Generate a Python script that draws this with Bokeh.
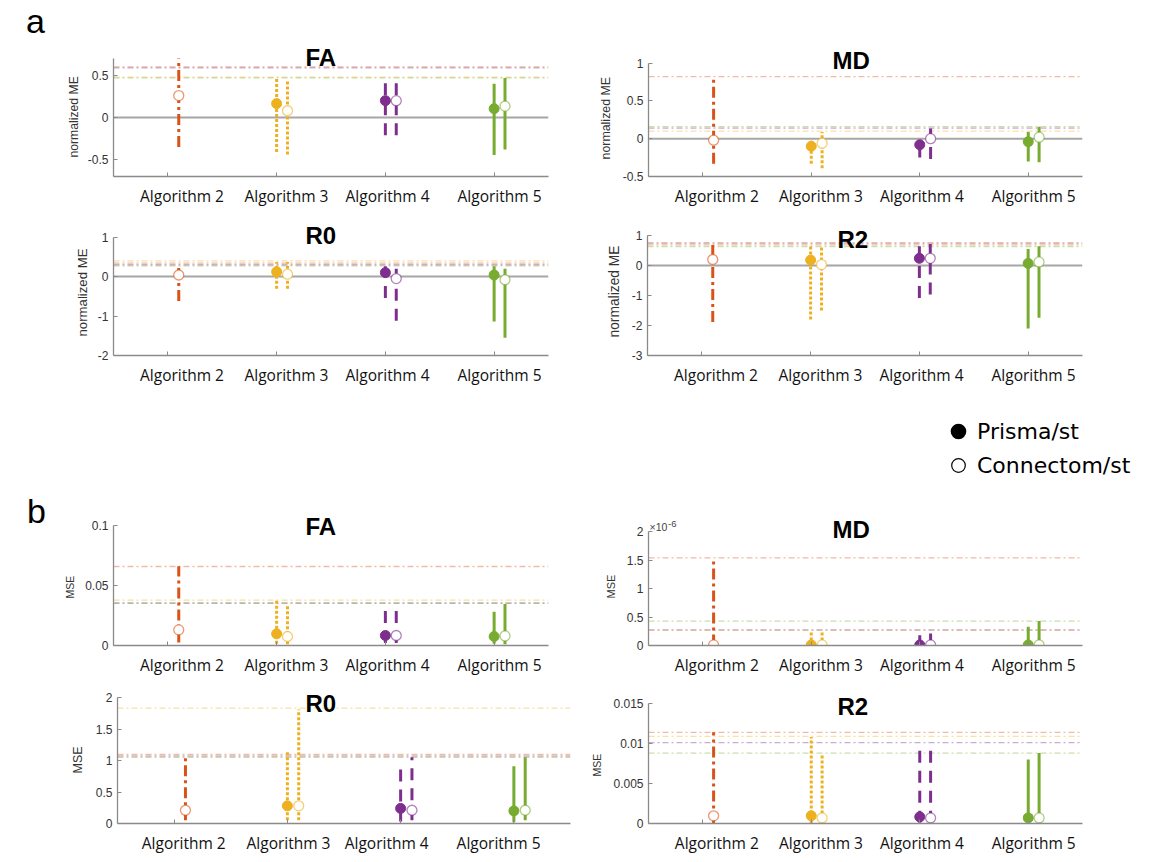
from bokeh.plotting import figure
from bokeh.models import (Range1d, FixedTicker, CustomJSTickFormatter, Span, Label, Title,
                          Legend, LegendItem, ColumnDataSource, Spacer, Div)
from bokeh.layouts import row, column
from bokeh.transform import dodge
from bokeh.embed import file_html
from bokeh.resources import INLINE

# ------------------------------------------------------------------ data
ALGORITHMS = ["Algorithm 2", "Algorithm 3", "Algorithm 4", "Algorithm 5"]
ALG_POS = [2, 3, 4, 5]        # Connectom/st: algorithms 2-5
PRISMA_POS = [3, 4, 5]        # Prisma/st: algorithms 3-5
LEGEND_LABELS = ["Prisma/st", "Connectom/st"]
COLORS = ["#D95319", "#EDB120", "#7E2F8E", "#77AC30"]
DASHES = ["11 4 3 4", "3 2", "12 8", "solid"]

# (a) normalized ME -- FA
me_fa_prisma = [0.165, 0.20, 0.105]
me_fa_prisma_lo = [-0.41, -0.21, -0.445]
me_fa_prisma_hi = [0.47, 0.49, 0.40]
me_fa_conn = [0.26, 0.08, 0.20, 0.135]
me_fa_conn_lo = [-0.35, -0.44, -0.21, -0.38]
me_fa_conn_hi = [0.70, 0.43, 0.49, 0.47]
me_fa_ref = [0.60, 0.48, 0.59, 0.47]

# (a) normalized ME -- MD
me_md_prisma = [-0.10, -0.08, -0.04]
me_md_prisma_lo = [-0.33, -0.25, -0.30]
me_md_prisma_hi = [0.0, -0.05, 0.09]
me_md_conn = [-0.02, -0.06, 0.0, 0.02]
me_md_conn_lo = [-0.33, -0.39, -0.27, -0.31]
me_md_conn_hi = [0.82, 0.09, 0.135, 0.157]
me_md_ref = [0.82, 0.10, 0.14, 0.16]

# (a) normalized ME -- R0
me_r0_prisma = [0.12, 0.10, 0.04]
me_r0_prisma_lo = [-0.31, -0.54, -1.14]
me_r0_prisma_hi = [0.37, 0.26, 0.26]
me_r0_conn = [0.04, 0.06, -0.05, -0.08]
me_r0_conn_lo = [-0.62, -0.31, -1.12, -1.55]
me_r0_conn_hi = [0.29, 0.37, 0.25, 0.20]
me_r0_ref = [0.34, 0.40, 0.30, 0.27]

# (a) normalized ME -- R2
me_r2_prisma = [0.18, 0.24, 0.07]
me_r2_prisma_lo = [-1.80, -1.08, -2.10]
me_r2_prisma_hi = [0.64, 0.64, 0.55]
me_r2_conn = [0.20, 0.03, 0.24, 0.12]
me_r2_conn_lo = [-1.88, -1.50, -0.97, -1.74]
me_r2_conn_hi = [0.76, 0.61, 0.72, 0.64]
me_r2_ref = [0.76, 0.67, 0.72, 0.63]

# (b) MSE -- FA
mse_fa_prisma = [0.0097, 0.0083, 0.0075]
mse_fa_prisma_lo = [0.0014, 0.002, 0.0014]
mse_fa_prisma_hi = [0.038, 0.032, 0.028]
mse_fa_conn = [0.013, 0.0075, 0.0083, 0.008]
mse_fa_conn_lo = [0.0025, 0.001, 0.002, 0.001]
mse_fa_conn_hi = [0.066, 0.034, 0.032, 0.0345]
mse_fa_ref = [0.0657, 0.0378, 0.0350, 0.0356]

# (b) MSE -- MD
mse_md_prisma = [0.01e-6, 0.01e-6, 0.01e-6]
mse_md_prisma_lo = [0.0, 0.0, 0.0]
mse_md_prisma_hi = [0.23e-6, 0.18e-6, 0.33e-6]
mse_md_conn = [0.01e-6, 0.01e-6, 0.01e-6, 0.01e-6]
mse_md_conn_lo = [0.0, 0.0, 0.0, 0.0]
mse_md_conn_hi = [1.54e-6, 0.26e-6, 0.21e-6, 0.43e-6]
mse_md_ref = [1.54e-6, 0.265e-6, 0.275e-6, 0.43e-6]

# (b) MSE -- R0
mse_r0_prisma = [0.28, 0.24, 0.20]
mse_r0_prisma_lo = [0.05, 0.03, 0.02]
mse_r0_prisma_hi = [1.14, 0.86, 0.91]
mse_r0_conn = [0.21, 0.28, 0.21, 0.21]
mse_r0_conn_lo = [0.05, 0.05, 0.05, 0.05]
mse_r0_conn_hi = [1.08, 1.81, 1.05, 1.05]
mse_r0_ref = [1.095, 1.83, 1.07, 1.05]

# (b) MSE -- R2
mse_r2_prisma = [0.00096, 0.00083, 0.0007]
mse_r2_prisma_lo = [0.0, 0.0001, 0.0]
mse_r2_prisma_hi = [0.0108, 0.0101, 0.0080]
mse_r2_conn = [0.00096, 0.0007, 0.0007, 0.0007]
mse_r2_conn_lo = [0.0, 0.0, 0.0001, 0.0]
mse_r2_conn_hi = [0.0114, 0.0085, 0.0092, 0.0088]
mse_r2_ref = [0.0114, 0.0109, 0.0101, 0.0088]

# axis ranges / ticks
me_fa_yrange, me_fa_yticks = (-0.7, 0.7), [-0.5, 0, 0.5]
me_md_yrange, me_md_yticks = (-0.5, 1.0), [-0.5, 0, 0.5, 1]
me_r0_yrange, me_r0_yticks = (-2.0, 1.0), [-2, -1, 0, 1]
me_r2_yrange, me_r2_yticks = (-3.0, 1.0), [-3, -2, -1, 0, 1]
mse_fa_yrange, mse_fa_yticks = (0.0, 0.1), [0, 0.05, 0.1]
mse_md_yrange, mse_md_yticks = (0.0, 2e-6), [0, 0.5e-6, 1e-6, 1.5e-6, 2e-6]
mse_r0_yrange, mse_r0_yticks = (0.0, 2.0), [0, 0.5, 1, 1.5, 2]
mse_r2_yrange, mse_r2_yticks = (0.0, 0.015), [0, 0.005, 0.01, 0.015]
MD_MSE_EXPONENT = ("\u00d710", "-6")

# ------------------------------------------------------------------ layout constants
STD_LABEL_POS = [2.13, 3.09, 4.02, 5.05]
WIDE_LABEL_POS = [2.085, 3.01, 3.877, 4.865]
AX_COL = "#8a8a8a"

# width, height, border_left, border_right, data_top, data_height,
# title_dx, title_dy, ylabel_font, ylabel_offset, ylabel_standoff, label_pos
G1 = (525, 209, 63, 27, 59, 120, 192, 1, "12.2px", 19, 8, STD_LABEL_POS)
G2 = (567, 209, 73, 60, 64, 116, 184, 3, "12.4px", 17, 14, STD_LABEL_POS)
G3 = (525, 183, 63, 27, 28, 120, 192, 2, "13.2px", 19, 9, STD_LABEL_POS)
G4 = (567, 183, 72, 60, 26, 120, 190, -4, "13.8px", 18, 13, STD_LABEL_POS)
G5 = (525, 188, 63, 27, 35, 121, 192, -1, "10.5px", 47, 14, STD_LABEL_POS)
G6 = (567, 188, 73, 60, 42, 116, 184, 2, "11px", 47, 13, STD_LABEL_POS)
G7 = (525, 178, 67, 5, 19, 126, 188, -6, "12.5px", 50, 16, WIDE_LABEL_POS)
G8 = (567, 178, 73, 60, 25, 120, 189, -3, "10.5px", 47, 16, STD_LABEL_POS)


def make_panel(title, ylabel, yrange, yticks, prisma, conn, ref, zero, geom,
               tick_scale=1.0, exponent=None):
    (w, h, bl, br, top, dh, tdx, tdy, yl_font, yl_off, yl_so, label_pos) = geom
    y0, y1 = yrange
    y_ext = y1 + (y1 - y0) * top / dh        # frame reaches the figure top
    p = figure(width=w, height=h, x_range=Range1d(1.5, 5.5), y_range=Range1d(y0, y_ext),
               min_border_left=bl, min_border_right=br, min_border_top=0,
               min_border_bottom=h - top - dh, output_backend="svg",
               toolbar_location=None, title=None)
    p.outline_line_color = None
    p.xgrid.visible = False
    p.ygrid.visible = False
    p.background_fill_color = "white"

    xa = p.xaxis[0]
    xa.ticker = FixedTicker(ticks=label_pos, minor_ticks=ALG_POS)
    xa.formatter = CustomJSTickFormatter(args=dict(labels=ALGORITHMS),
                                         code="return labels[index];")
    xa.major_tick_line_color = None
    xa.major_tick_in = 0
    xa.major_tick_out = 0
    xa.minor_tick_in = 4
    xa.minor_tick_out = 0
    xa.minor_tick_line_color = AX_COL
    xa.axis_line_color = AX_COL
    xa.axis_line_width = 1.3
    xa.major_label_standoff = 8
    xa.major_label_text_font = "Open Sans"
    xa.major_label_text_font_size = "15.5px"
    xa.major_label_text_color = "#111111"

    ya = p.yaxis[0]
    ya.bounds = (y0, y1)
    ya.ticker = FixedTicker(ticks=yticks, minor_ticks=[])
    ya.formatter = CustomJSTickFormatter(
        args=dict(s=tick_scale),
        code="return String(Math.round(tick * s * 1e6) / 1e6);")
    ya.major_tick_in = 4
    ya.major_tick_out = 0
    ya.minor_tick_line_color = None
    ya.major_tick_line_color = AX_COL
    ya.axis_line_color = AX_COL
    ya.axis_line_width = 1.3
    ya.major_label_standoff = 5
    ya.major_label_text_font = "Liberation Sans"
    ya.major_label_text_font_size = "12px"
    ya.major_label_text_color = "#333333"
    p.add_layout(Title(text=ylabel, align="left", offset=yl_off, standoff=yl_so,
                       text_font="Liberation Sans", text_font_style="normal",
                       text_font_size=yl_font, text_color="#333333"), "left")

    for k, v in enumerate(ref):
        p.add_layout(Span(location=v, dimension="width", line_color=COLORS[k],
                          line_alpha=0.4, line_width=1.3, line_dash="6 3 2 3",
                          level="underlay"))
    if zero:
        p.add_layout(Span(location=0, dimension="width", line_color="#a6a6a6",
                          line_width=2, level="underlay"))

    pm, plo, phi = prisma
    cm, clo, chi = conn
    for k, xpos in enumerate(ALG_POS):
        col, dash = COLORS[k], DASHES[k]
        cs = ColumnDataSource(dict(x=[xpos], m=[cm[k]], lo=[clo[k]], hi=[chi[k]]))
        ps = None
        if xpos in PRISMA_POS:
            j = PRISMA_POS.index(xpos)
            ps = ColumnDataSource(dict(x=[xpos], m=[pm[j]], lo=[plo[j]], hi=[phi[j]]))
            p.segment(x0="x", y0="lo", x1="x", y1="hi", source=ps, line_color=col,
                      line_width=3, line_dash=dash)
        p.segment(x0=dodge("x", 0.1), y0="lo", x1=dodge("x", 0.1), y1="hi", source=cs,
                  line_color=col, line_width=3, line_dash=dash)
        if ps is not None:
            p.scatter(x="x", y="m", source=ps, marker="circle", size=10,
                      fill_color=col, line_color=col)
        p.scatter(x=dodge("x", 0.1), y="m", source=cs, marker="circle", size=10,
                  fill_color="white", line_color=col, line_alpha=0.6, line_width=1.3)

    p.add_layout(Label(x=1.5, y=y1, text=title, text_align="left",
                       text_baseline="alphabetic", x_offset=tdx, y_offset=tdy,
                       text_font="Liberation Sans", text_font_style="bold",
                       text_font_size="24px", text_color="black"))
    if exponent:
        base, power = exponent
        p.add_layout(Label(x=1.5, y=y1, text=base, text_align="left",
                           text_baseline="alphabetic", x_offset=1, y_offset=4.5,
                           text_font="Liberation Sans", text_font_size="10.5px",
                           text_color="#444444"))
        p.add_layout(Label(x=1.5, y=y1, text=power, text_align="left",
                           text_baseline="alphabetic", x_offset=19.5, y_offset=8,
                           text_font="Liberation Sans", text_font_size="9.5px",
                           text_color="#444444"))
    return p


p1 = make_panel("FA", "normalized ME", me_fa_yrange, me_fa_yticks,
                (me_fa_prisma, me_fa_prisma_lo, me_fa_prisma_hi),
                (me_fa_conn, me_fa_conn_lo, me_fa_conn_hi), me_fa_ref, True, G1)
p2 = make_panel("MD", "normalized ME", me_md_yrange, me_md_yticks,
                (me_md_prisma, me_md_prisma_lo, me_md_prisma_hi),
                (me_md_conn, me_md_conn_lo, me_md_conn_hi), me_md_ref, True, G2)
p3 = make_panel("R0", "normalized ME", me_r0_yrange, me_r0_yticks,
                (me_r0_prisma, me_r0_prisma_lo, me_r0_prisma_hi),
                (me_r0_conn, me_r0_conn_lo, me_r0_conn_hi), me_r0_ref, True, G3)
p4 = make_panel("R2", "normalized ME", me_r2_yrange, me_r2_yticks,
                (me_r2_prisma, me_r2_prisma_lo, me_r2_prisma_hi),
                (me_r2_conn, me_r2_conn_lo, me_r2_conn_hi), me_r2_ref, True, G4)
p5 = make_panel("FA", "MSE", mse_fa_yrange, mse_fa_yticks,
                (mse_fa_prisma, mse_fa_prisma_lo, mse_fa_prisma_hi),
                (mse_fa_conn, mse_fa_conn_lo, mse_fa_conn_hi), mse_fa_ref, False, G5)
p6 = make_panel("MD", "MSE", mse_md_yrange, mse_md_yticks,
                (mse_md_prisma, mse_md_prisma_lo, mse_md_prisma_hi),
                (mse_md_conn, mse_md_conn_lo, mse_md_conn_hi), mse_md_ref, False, G6,
                tick_scale=1e6, exponent=MD_MSE_EXPONENT)
p7 = make_panel("R0", "MSE", mse_r0_yrange, mse_r0_yticks,
                (mse_r0_prisma, mse_r0_prisma_lo, mse_r0_prisma_hi),
                (mse_r0_conn, mse_r0_conn_lo, mse_r0_conn_hi), mse_r0_ref, False, G7)
p8 = make_panel("R2", "MSE", mse_r2_yrange, mse_r2_yticks,
                (mse_r2_prisma, mse_r2_prisma_lo, mse_r2_prisma_hi),
                (mse_r2_conn, mse_r2_conn_lo, mse_r2_conn_hi), mse_r2_ref, False, G8)

# legend (black proxies, not drawn in any plot)
leg = figure(width=200, height=98, x_range=Range1d(0, 1), y_range=Range1d(0, 1),
             x_axis_type=None, y_axis_type=None, min_border=0,
             output_backend="svg", toolbar_location=None, title=None)
leg.outline_line_color = None
leg.grid.visible = False
r_fill = leg.scatter(x=[0.5], y=[0.5], marker="circle", size=14, fill_color="black",
                     line_color="black", line_width=2, visible=False)
r_open = leg.scatter(x=[0.5], y=[0.5], marker="circle", size=14, fill_color="white",
                     line_color="black", line_width=1.2, visible=False)
legend = Legend(items=[LegendItem(label=LEGEND_LABELS[0], renderers=[r_fill]),
                       LegendItem(label=LEGEND_LABELS[1], renderers=[r_open])],
                location=(5, 8), border_line_color=None, background_fill_alpha=0,
                inactive_fill_alpha=0, padding=0, margin=0, spacing=0,
                glyph_width=34, glyph_height=34, label_height=34, label_standoff=2,
                label_text_font="DejaVu Sans", label_text_font_size="22px",
                label_text_color="black")
leg.add_layout(legend)

LETTER_CSS = "font-family:'Liberation Sans',Arial,sans-serif;font-size:34px;line-height:34px;"
div_a = Div(text=f'<div style="{LETTER_CSS}padding:4px 0 0 26px;">a</div>',
            width=50, height=490, margin=(0, 0, 0, 0))
div_b = Div(text=f'<div style="{LETTER_CSS}padding:4px 0 0 27px;">b</div>',
            width=50, height=366, margin=(0, 0, 0, 0))

main = column(row(p1, p2), row(p3, p4),
              row(Spacer(width=886, height=98), leg),
              row(p5, p6), row(p7, p8))
layout = row(column(div_a, div_b), main)

open("out.html", "w").write(file_html(layout, INLINE))
